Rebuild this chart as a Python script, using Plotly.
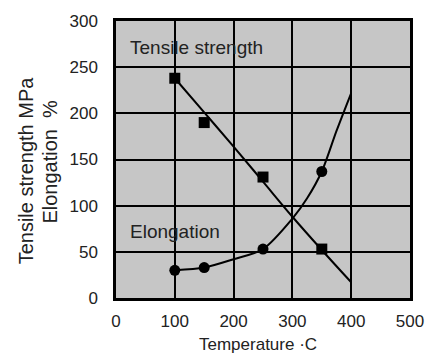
import plotly.graph_objects as go

# Measured points (markers)
ts_temp = [100, 150, 250, 350]
ts_val = [238, 190, 131, 53]
el_temp = [100, 150, 250, 350]
el_val = [30, 33, 53, 137]

# Fitted curves
ts_curve_temp = [100, 150, 200, 250, 300, 350, 400]
ts_curve_val = [238, 201, 164, 126, 88, 52, 17]
el_curve_temp = [100, 150, 200, 250, 300, 325, 350, 375, 400]
el_curve_val = [30, 33, 42, 53, 86, 108, 137, 181, 222]

x_ticks = [0, 100, 200, 300, 400, 500]
y_ticks = [0, 50, 100, 150, 200, 250, 300]

FONT = "Liberation Sans, Arial, sans-serif"
TXT = "#222222"

fig = go.Figure()
fig.add_trace(go.Scatter(x=ts_curve_temp, y=ts_curve_val, mode="lines",
                         line=dict(color="black", width=2, shape="spline"),
                         showlegend=False, hoverinfo="skip"))
fig.add_trace(go.Scatter(x=el_curve_temp, y=el_curve_val, mode="lines",
                         line=dict(color="black", width=2, shape="spline", smoothing=0.8),
                         showlegend=False, hoverinfo="skip"))
fig.add_trace(go.Scatter(x=ts_temp, y=ts_val, mode="markers",
                         marker=dict(symbol="square", size=11, color="black"),
                         name="Tensile strength", showlegend=False))
fig.add_trace(go.Scatter(x=el_temp, y=el_val, mode="markers",
                         marker=dict(symbol="circle", size=11, color="black"),
                         name="Elongation", showlegend=False))

fig.update_layout(
    width=436, height=356,
    margin=dict(l=116, r=15, t=15, b=58),
    paper_bgcolor="white",
    plot_bgcolor="#c6c6c6",
    font=dict(family=FONT, size=17, color=TXT),
    xaxis=dict(range=[0, 500], tickvals=x_ticks, showgrid=True,
               gridcolor="black", gridwidth=2, zeroline=False,
               showline=True, linecolor="black", linewidth=2.5, mirror=True,
               ticks="", ticklabelstandoff=6,
               tickfont=dict(family=FONT, size=17, color=TXT)),
    yaxis=dict(range=[0, 300], tickvals=y_ticks, showgrid=True,
               gridcolor="black", gridwidth=2, zeroline=False,
               showline=True, linecolor="black", linewidth=2.5, mirror=True,
               ticks="", ticklabelstandoff=12,
               tickfont=dict(family=FONT, size=17, color=TXT)),
    annotations=[
        dict(text="Tensile strength", x=20, y=271, xref="x", yref="y",
             xanchor="left", yanchor="middle", showarrow=False,
             font=dict(family=FONT, size=19, color=TXT)),
        dict(text="Elongation", x=20, y=72, xref="x", yref="y",
             xanchor="left", yanchor="middle", showarrow=False,
             font=dict(family=FONT, size=19, color=TXT)),
        dict(text="Tensile strength MPa", x=-0.305, y=0.462, xref="paper", yref="paper",
             xanchor="center", yanchor="middle", textangle=-90, showarrow=False,
             font=dict(family=FONT, size=20, color=TXT)),
        dict(text="Elongation  %", x=-0.223, y=0.494, xref="paper", yref="paper",
             xanchor="center", yanchor="middle", textangle=-90, showarrow=False,
             font=dict(family=FONT, size=20, color=TXT)),
        dict(text="Temperature ·C", x=0.482, y=-0.168, xref="paper", yref="paper",
             xanchor="center", yanchor="middle", showarrow=False,
             font=dict(family=FONT, size=17, color=TXT)),
    ],
)

fig.write_html("out.html")
